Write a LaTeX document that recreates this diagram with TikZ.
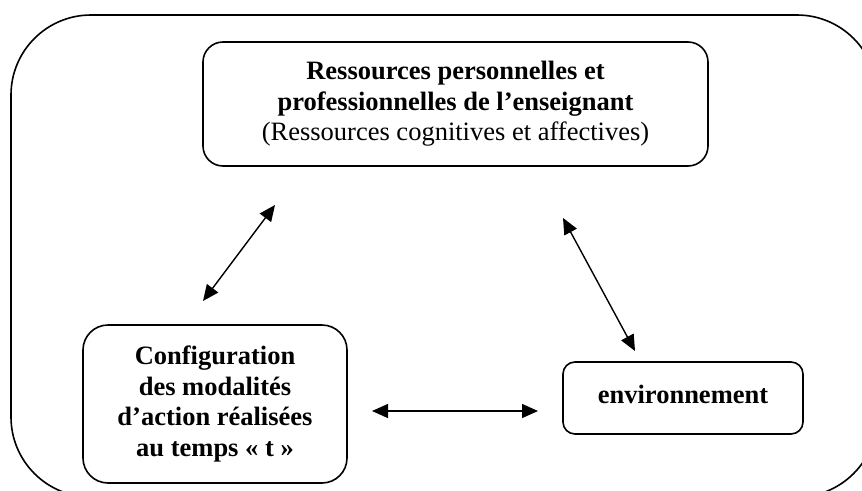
\documentclass[tikz,border=0pt]{standalone}
\usepackage{fontspec}
\setmainfont{Liberation Serif}
\usetikzlibrary{arrows.meta}
\tikzset{
  frame/.style={draw, line width=1.6pt, rounded corners=80pt},
  box/.style={draw, line width=1.6pt, rectangle, align=center, inner sep=0pt,
    font=\fontsize{26.5}{30.5}\selectfont},
  link/.style={line width=1.4pt, {Triangle[length=16pt,width=14pt]}-{Triangle[length=16pt,width=14pt]}}
}
\begin{document}
\begin{tikzpicture}[x=1pt,y=-1pt]
\useasboundingbox (0,0) rectangle (862,490);
\begin{scope}
\clip (0,0) rectangle (862,490);
\draw[frame] (11,15) rectangle (877,497);
\end{scope}
\node[box, rounded corners=20pt, minimum width=505pt, minimum height=124pt] (res) at (455.5,104)
  {\textbf{Ressources personnelles et}\\ \textbf{professionnelles de l’enseignant}\\ (Ressources cognitives et affectives)};
\node[box, rounded corners=25pt, minimum width=264pt, minimum height=158pt] (conf) at (215,404)
  {\textbf{Configuration}\\ \textbf{des modalités}\\ \textbf{d’action réalisées}\\ \textbf{au temps « t »}};
\node[box, rounded corners=12pt, minimum width=240pt, minimum height=72pt, text height=18pt, text depth=8pt] (env) at (683,398)
  {\textbf{environnement}};
\coordinate (a1) at (275,205);
\coordinate (a2) at (203,301);
\coordinate (b1) at (563,218);
\coordinate (b2) at (635,351);
\coordinate (c1) at (372,411);
\coordinate (c2) at (538,411);
\draw[link] (a1) -- (a2);
\draw[link] (b1) -- (b2);
\draw[link] (c1) -- (c2);
\end{tikzpicture}
\end{document}
